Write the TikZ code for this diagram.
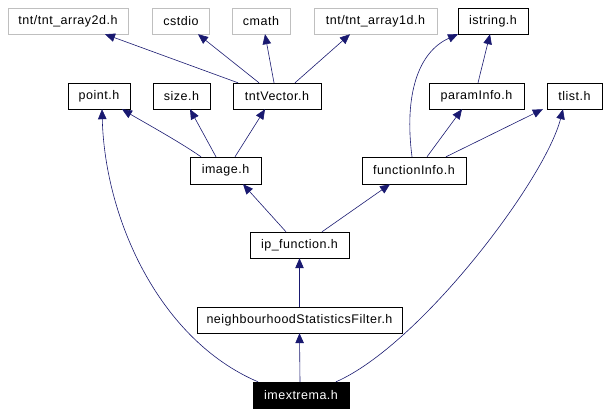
\documentclass[tikz,border=0pt]{standalone}
\usepackage{fontspec}
\setmainfont[LetterSpace=4]{Liberation Sans}
\usepackage{tikz}
\usepackage{xcolor}
\usetikzlibrary{arrows.meta, positioning}
\definecolor{edgeblue}{HTML}{191970}
\definecolor{boxgray}{HTML}{BFBFBF}
\tikzstyle{hfile} = [rectangle, draw=black, minimum height=26pt, inner sep=0pt, text centered, font=\fontsize{12.5}{14}\selectfont]
\tikzstyle{sysfile} = [hfile, draw=boxgray]
\tikzstyle{dep} = [edgeblue, line width=0.6pt, -{Triangle[length=10pt,width=8.5pt]}]

\begin{document}
\begin{tikzpicture}[x=1pt, y=-1pt]
        \useasboundingbox (0,0) rectangle (607,415);
        % first row
        \node[sysfile, minimum width=120pt] (arrtwod) at (68,21) {tnt/tnt\_array2d.h};
        \node[sysfile, minimum width=57pt] (cstdio) at (181,21) {cstdio};
        \node[sysfile, minimum width=58pt] (cmath) at (261,21) {cmath};
        \node[sysfile, minimum width=123pt] (arronedd) at (375.5,21) {tnt/tnt\_array1d.h};
        \node[hfile, minimum width=70pt] (istring) at (493,21) {istring.h};
        % second row
        \node[hfile, minimum width=62pt] (point) at (99,96) {point.h};
        \node[hfile, minimum width=57pt] (size) at (181.5,96) {size.h};
        \node[hfile, minimum width=88pt] (tntvector) at (277,96) {tntVector.h};
        \node[hfile, minimum width=95pt] (paraminfo) at (476.5,96) {paramInfo.h};
        \node[hfile, minimum width=55pt] (tlist) at (574.5,96) {tlist.h};
        % third row
        \node[hfile, minimum width=71pt, minimum height=27pt] (image) at (225.5,170.5) {image.h};
        \node[hfile, minimum width=104pt, minimum height=27pt] (funcinfo) at (414,170.5) {functionInfo.h};
        % lower part
        \node[hfile, minimum width=99pt] (ipfunc) at (299.5,245) {ip\_function.h};
        \node[hfile, minimum width=205pt] (nsfilter) at (299.5,320) {neighbourhoodStatisticsFilter.h};
        \node[hfile, minimum width=96pt, fill=black, text=white] (imextrema) at (301,395) {imextrema.h};

        \draw[dep] ([xshift=-1]imextrema.north) -- (nsfilter.south);
        \draw[dep] (nsfilter.north) -- (ipfunc.south);
        \draw[dep] ([xshift=-13.5]ipfunc.north) -- ([xshift=17.5]image.south);
        \draw[dep] ([xshift=22.5]ipfunc.north) -- ([xshift=-24]funcinfo.south);
        \draw[dep] ([xshift=-24.5]image.north) .. controls (180,142) and (140,120) .. ([xshift=23]point.south);
        \draw[dep] ([xshift=-9.5]image.north) -- ([xshift=8.5]size.south);
        \draw[dep] ([xshift=9.5]image.north) -- ([xshift=-12]tntvector.south);
        \draw[dep] ([xshift=-39]tntvector.north) -- ([xshift=37]arrtwod.south);
        \draw[dep] ([xshift=-18]tntvector.north) -- ([xshift=17]cstdio.south);
        \draw[dep] ([xshift=-3]tntvector.north) -- ([xshift=4]cmath.south);
        \draw[dep] ([xshift=18]tntvector.north) -- ([xshift=-25.5]arronedd.south);
        \draw[dep] ([xshift=-2]funcinfo.north) .. controls (404,95) and (418,52) .. ([xshift=-35]istring.south);
        \draw[dep] ([xshift=13]funcinfo.north) -- ([xshift=-14.5]paraminfo.south);
        \draw[dep] ([xshift=32]funcinfo.north) -- ([xshift=-4]tlist.south west);
        \draw[dep] ([xshift=1.5]paraminfo.north) -- ([xshift=-3]istring.south);
        \draw[dep] ([xshift=-43]imextrema.north) .. controls (160,340) and (105,220) .. ([xshift=3]point.south);
        \draw[dep] ([xshift=35]imextrema.north) .. controls (420,345) and (545,180) .. ([xshift=-11.5]tlist.south);
    \end{tikzpicture}
\end{document}
